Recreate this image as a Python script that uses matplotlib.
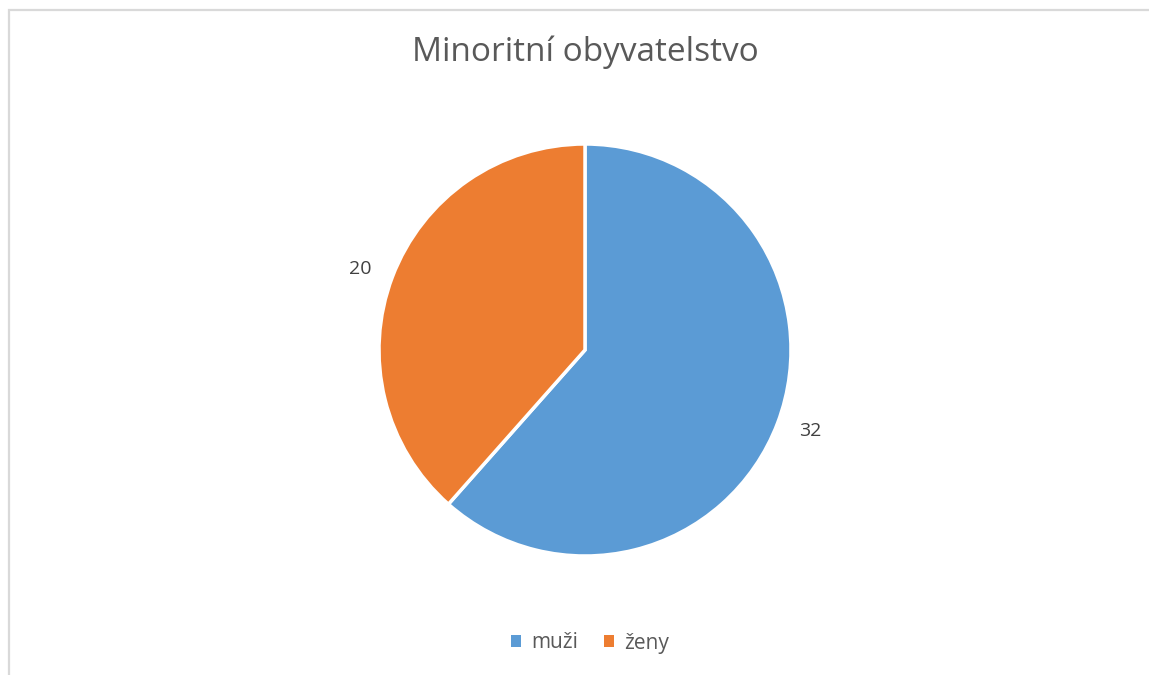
import matplotlib
matplotlib.use('Agg')
import matplotlib.pyplot as plt
from matplotlib.patches import Rectangle, Patch

plt.rcParams['font.family'] = ['Open Sans', 'DejaVu Sans']

labels = ['muži', 'ženy']
values = [32, 20]
colors = ['#5B9BD5', '#ED7D31']
title = 'Minoritní obyvatelstvo'

W, H = 1149, 675
fig = plt.figure(figsize=(W / 100, H / 100), dpi=100)

# chart border (left and top only visible)
fig.add_artist(Rectangle((8.5 / W, -0.1), 1.2, (H - 9.5) / H + 0.1,
                         transform=fig.transFigure, fill=False,
                         edgecolor='#D9D9D9', linewidth=1.6))

cx, cy, r = 585, 325, 206
ax = fig.add_axes([(cx - r) / W, (cy - r) / H, 2 * r / W, 2 * r / H])
wedges, texts = ax.pie(values, colors=colors, startangle=90, counterclock=False,
                       labels=[str(v) for v in values], labeldistance=1.11,
                       wedgeprops=dict(edgecolor='white', linewidth=2.5),
                       textprops=dict(color='#404040', fontsize=14))
ax.set_xlim(-1, 1)
ax.set_ylim(-1, 1)
ax.set_aspect('auto')
ax.axis('off')

fig.text(585 / W, 1 - 52 / H, title, ha='center', va='center',
         fontsize=24, color='#595959')

handles = [Patch(facecolor=c, edgecolor='none') for c in colors]
fig.legend(handles, labels, loc='center', bbox_to_anchor=(590 / W, 1 - 643 / H),
           ncol=2, frameon=False, fontsize=15, handlelength=0.5, handleheight=0.5,
           handletextpad=0.5, columnspacing=1.2, labelcolor='#595959')

fig.savefig('out.png', dpi=100, facecolor='white')
